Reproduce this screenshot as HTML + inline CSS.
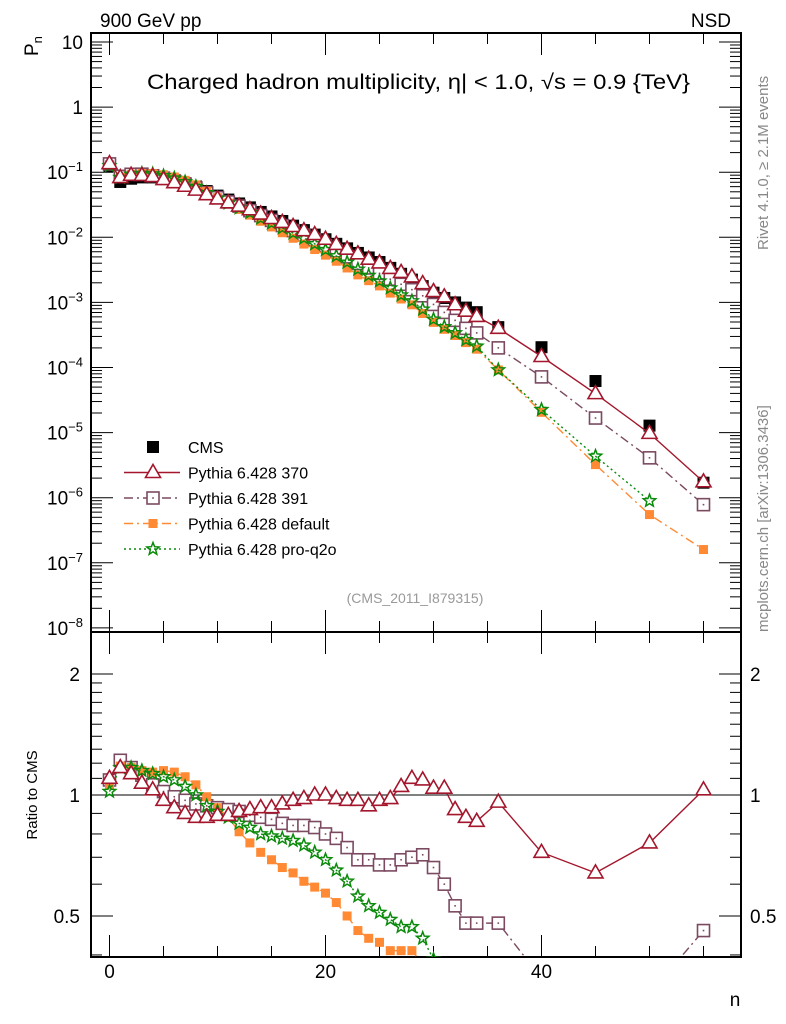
<!DOCTYPE html>
<html><head><meta charset="utf-8"><style>
html,body{margin:0;padding:0;background:#fff;overflow:hidden;width:786px;height:1024px}
svg{display:block;font-family:"Liberation Sans",sans-serif}
</style></head><body>
<svg id="c" width="786" height="1024" viewBox="0 0 786 1024" xmlns="http://www.w3.org/2000/svg">
<text x="100" y="27" font-size="19">900 GeV pp</text>
<text x="731" y="27" font-size="19" text-anchor="end">NSD</text>
<text transform="translate(38,56) rotate(-90)" font-size="19">P<tspan font-size="13" dy="4">n</tspan></text>
<text x="147" y="89" font-size="21" textLength="543" lengthAdjust="spacingAndGlyphs">Charged hadron multiplicity, η| &lt; 1.0, √s = 0.9 {TeV}</text>
<text transform="translate(768,250) rotate(-90)" font-size="15" fill="#888">Rivet 4.1.0, ≥ 2.1M events</text>
<text transform="translate(768,632) rotate(-90)" font-size="15" fill="#888">mcplots.cern.ch [arXiv:1306.3436]</text>
<text x="415" y="603" font-size="14" fill="#999" text-anchor="middle">(CMS_2011_I879315)</text>
<text transform="translate(37,795) rotate(-90)" font-size="15" text-anchor="middle">Ratio to CMS</text>
<text x="735" y="1006" font-size="19" text-anchor="middle">n</text>
<g id="legend"></g>
</svg>
<script>
const nVals=[0,1,2,3,4,5,6,7,8,9,10,11,12,13,14,15,16,17,18,19,20,21,22,23,24,25,26,27,28,29,30,31,32,33,34,36,40,45,50,55];
const cmsVals=[0.123,0.0708,0.0794,0.0832,0.0832,0.0794,0.0741,0.0676,0.0603,0.0513,0.0437,0.0380,0.0331,0.0288,0.0245,0.0209,0.0178,0.0151,0.0129,0.0110,0.00933,0.00794,0.00676,0.00575,0.00490,0.00417,0.00339,0.00275,0.00224,0.00178,0.00141,0.00117,0.00100,0.000832,0.000708,0.000417,0.000205,0.0000620,0.0000128,0.00000170];
const ratio370=[1.10,1.17,1.13,1.07,1.03,0.97,0.93,0.90,0.88,0.88,0.89,0.89,0.91,0.92,0.93,0.93,0.95,0.97,0.98,1.00,1.00,0.98,0.97,0.97,0.94,0.97,0.98,1.05,1.10,1.09,1.04,1.04,0.92,0.88,0.86,0.96,0.72,0.64,0.76,1.03];
const ratio391=[1.09,1.22,1.17,1.12,1.06,1.02,0.99,0.97,0.95,0.94,0.93,0.92,0.91,0.89,0.88,0.87,0.85,0.84,0.84,0.83,0.80,0.78,0.74,0.69,0.69,0.67,0.67,0.69,0.70,0.71,0.66,0.60,0.53,0.48,0.48,0.48,0.35,0.27,0.32,0.46];
const ratioDef=[1.06,1.18,1.17,1.15,1.14,1.15,1.14,1.11,1.06,0.99,0.93,0.88,0.81,0.76,0.72,0.69,0.66,0.64,0.61,0.59,0.57,0.54,0.50,0.46,0.44,0.43,0.41,0.41,0.41,0.38,0.35,0.33,0.31,0.29,0.27,0.22,0.10,0.052,0.043,0.094];
const ratioQ2o=[1.02,1.17,1.17,1.15,1.13,1.11,1.09,1.05,1.00,0.94,0.91,0.88,0.85,0.83,0.80,0.79,0.78,0.77,0.75,0.72,0.69,0.65,0.61,0.56,0.53,0.51,0.49,0.47,0.47,0.44,0.39,0.36,0.34,0.32,0.30,0.22,0.11,0.07,0.07,null];
const mainTickLabels=["10","1","10|-1","10|-2","10|-3","10|-4","10|-5","10|-6","10|-7","10|-8"];
const xTickLabels=[0,20,40];
const ratioTickLabels=[0.5,1,2];

const NS="http://www.w3.org/2000/svg";
const svg=document.getElementById('c');
const L=91,R=741,T=33,MB=632,RB=957;
function X(n){return 109.5+10.8*n;}
function Y(v){return 42+65.1*(1-Math.log10(v));}
function YR(r){return 795-121*Math.log2(r);}
function mk(tag,at,parent){const e=document.createElementNS(NS,tag);for(const k in at)e.setAttribute(k,at[k]);(parent||svg).appendChild(e);return e;}

const defs=mk('defs',{});
const c1=mk('clipPath',{id:'cm'},defs);mk('rect',{x:L,y:T,width:R-L,height:MB-T},c1);
const c2=mk('clipPath',{id:'cr'},defs);mk('rect',{x:L,y:MB,width:R-L,height:RB-MB},c2);

let f=mk('rect',{x:L,y:T,width:R-L,height:MB-T,fill:'none',stroke:'#000','stroke-width':2});

f=mk('rect',{x:L,y:MB,width:R-L,height:RB-MB,fill:'none',stroke:'#000','stroke-width':2});


const yt=mk('g',{stroke:'#000','stroke-width':1});

for(let d=1;d>=-8;d--){
  const y=Y(Math.pow(10,d));
  mk('line',{x1:L,x2:L+22,y1:y,y2:y},yt);mk('line',{x1:R,x2:R-22,y1:y,y2:y},yt);
  if(d>-8)for(let m=2;m<=9;m++){const yy=Y(m*Math.pow(10,d-1));mk('line',{x1:L,x2:L+11,y1:yy,y2:yy},yt);mk('line',{x1:R,x2:R-11,y1:yy,y2:yy},yt);}
}
mainTickLabels.forEach((s,i)=>{
  const y=Y(Math.pow(10,1-i));const p=s.split('|');
  const t=mk('text',{x:83,y:y+7,'font-size':19,'text-anchor':'end'});
  
  t.textContent=p[0];
  if(p[1]){const ts=mk('tspan',{dy:-8,'font-size':13},t);ts.textContent='−'+p[1].slice(1);}
});
const rt=mk('g',{stroke:'#000','stroke-width':1});

[0.4,0.5,0.6,0.7,0.8,0.9,1,1.1,1.2,1.3,1.4,1.5,1.6,1.7,1.8,1.9,2].forEach(r=>{
  const y=YR(r);const big=(r===0.5||r===1||r===2);const len=big?22:11;
  if(y>MB&&y<RB){mk('line',{x1:L,x2:L+len,y1:y,y2:y},rt);mk('line',{x1:R,x2:R-len,y1:y,y2:y},rt);}
});
ratioTickLabels.forEach(r=>{
  const y=YR(r);
  let t=mk('text',{x:80,y:y+7,'font-size':19,'text-anchor':'end'});t.textContent=String(r);
  
  t=mk('text',{x:750,y:y+7,'font-size':19});t.textContent=String(r);
  
});
mk('line',{x1:L,x2:R,y1:YR(1),y2:YR(1),stroke:'#000','stroke-width':1});
const xt=mk('g',{stroke:'#000','stroke-width':1});

for(let n=0;n<=55;n+=5){
  const x=X(n);const big=n%20===0;const len=big?22:11;
  [[T,1],[MB,-1],[MB,1],[RB,-1]].forEach(([y0,s])=>mk('line',{x1:x,x2:x,y1:y0,y2:y0+s*len},xt));
}
xTickLabels.forEach(n=>{
  const t=mk('text',{x:X(n),y:978,'font-size':19,'text-anchor':'middle'});t.textContent=n;
  
});

function marker(type,x,y,col,g){
  if(type==='cms')mk('rect',{x:x-6,y:y-6,width:12,height:12,fill:'#000'},g);
  else if(type==='tri')mk('path',{d:`M${x},${y-8}L${x+7.5},${y+5}L${x-7.5},${y+5}Z`,fill:'#fff',stroke:col,'stroke-width':1.6},g);
  else if(type==='osq'){mk('rect',{x:x-6,y:y-6,width:12,height:12,fill:'#fff',stroke:col,'stroke-width':1.6},g);mk('rect',{x:x-0.8,y:y-0.8,width:1.6,height:1.6,fill:col},g);}
  else if(type==='fsq')mk('rect',{x:x-4.5,y:y-4.5,width:9,height:9,fill:col},g);
  else if(type==='star'){let d='';for(let i=0;i<10;i++){const a=-Math.PI/2+i*Math.PI/5,r=i%2?2.8:6.5;d+=(i?'L':'M')+(x+r*Math.cos(a)).toFixed(1)+','+(y+r*Math.sin(a)).toFixed(1);}mk('path',{d:d+'Z',fill:'none',stroke:col,'stroke-width':1.5},g);}
}
const series=[
 {name:'pythia-391',ratio:ratio391,col:'#7b4a61',type:'osq',dash:'9,4,2,4',label:'Pythia 6.428 391'},
 {name:'pythia-default',ratio:ratioDef,col:'#ff8a33',type:'fsq',dash:'9,4,2,4',label:'Pythia 6.428 default'},
 {name:'pythia-pro-q2o',ratio:ratioQ2o,col:'#0a8a0a',type:'star',dash:'2,3',label:'Pythia 6.428 pro-q2o'},
 {name:'pythia-370',ratio:ratio370,col:'#a3162c',type:'tri',dash:'',label:'Pythia 6.428 370'}
];
const cg=mk('g',{'clip-path':'url(#cm)'});

nVals.forEach((n,i)=>marker('cms',X(n),Y(cmsVals[i]),'#000',cg));
series.forEach(s=>{
  const g=mk('g',{'clip-path':'url(#cm)'});
  
  const gr=mk('g',{'clip-path':'url(#cr)'});
  
  let pm=[],pr=[];
  nVals.forEach((n,i)=>{const r=s.ratio[i];if(r==null)return;pm.push([X(n),Y(cmsVals[i]*r)]);pr.push([X(n),YR(r)]);});
  const a={fill:'none',stroke:s.col,'stroke-width':1.4};if(s.dash)a['stroke-dasharray']=s.dash;
  mk('polyline',Object.assign({points:pm.map(p=>p.join(',')).join(' ')},a),g);
  mk('polyline',Object.assign({points:pr.map(p=>p.join(',')).join(' ')},a),gr);
  pm.forEach(p=>marker(s.type,p[0],p[1],s.col,g));
  pr.forEach(p=>marker(s.type,p[0],p[1],s.col,gr));
});
const lg=document.getElementById('legend');
const items=[{type:'cms',col:'#000',label:'CMS',dash:null}].concat([series[3],series[0],series[1],series[2]]);
items.forEach((it,i)=>{
  const y=447+25.5*i;
  const g=mk('g',{},lg);
  
  if(it.dash!==null){const a={x1:124,x2:180,y1:y,y2:y,stroke:it.col,'stroke-width':1.4};if(it.dash)a['stroke-dasharray']=it.dash;mk('line',a,g);}
  marker(it.type,153,y,it.col,g);
  const t=mk('text',{x:188,y:y+6,'font-size':16},g);t.textContent=it.label;
});
</script>
</body></html>
